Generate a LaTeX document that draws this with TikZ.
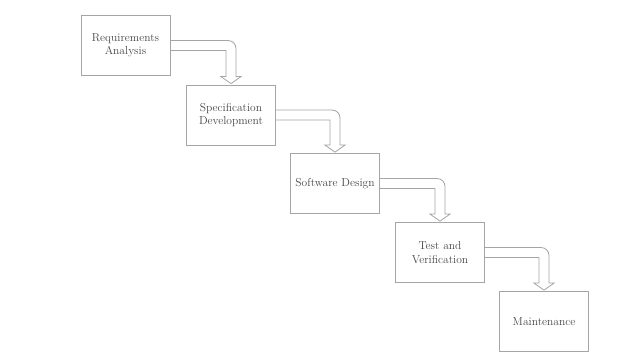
\documentclass[tikz,border=0pt]{standalone}
\usepackage{tikz}
\usetikzlibrary{calc}

\definecolor{boxgray}{RGB}{165,165,165}
\definecolor{inkgray}{RGB}{70,70,70}

\tikzset{
	stage/.style={shape=rectangle,draw=boxgray,line width=0.8pt,minimum width=89pt,minimum height=60pt,inner sep=2pt,align=center,text=inkgray,font=\fontsize{11.5}{13.5}\selectfont},
	flow/.style={draw=boxgray,line width=0.8pt}
}

% hollow bent arrow from the east side of #1 down onto the top of #2
\newcommand{\hollowflow}[2]{%
	\draw[flow] let \p1=(#1.east), \p2=(#2.north) in
		(\x1,\y1-5) -- (\x2-5,\y1-5) -- (\x2-5,\y2+8) -- (\x2-10,\y2+8) -- (\x2,\y2+1)
		-- (\x2+10,\y2+8) -- (\x2+5,\y2+8) -- (\x2+5,\y1-3)
		arc[start angle=0,end angle=90,radius=8] -- (\x1,\y1+5);}

\begin{document}
\begin{tikzpicture}[x=1pt,y=1pt]
	\useasboundingbox (0,0) rectangle (638,-352);
	\node[stage] (req)   at (125.5, -45.5)  {Requirements\\Analysis};
	\node[stage] (spec)  at (231, -115)     {Specification\\Development};
	\node[stage] (soft)  at (335, -183.5)   {Software Design};
	\node[stage] (test)  at (440, -252.5)   {Test and\\Verification};
	\node[stage] (maint) at (544, -321.5)   {Maintenance};
	\hollowflow{req}{spec}
	\hollowflow{spec}{soft}
	\hollowflow{soft}{test}
	\hollowflow{test}{maint}
\end{tikzpicture}
\end{document}
